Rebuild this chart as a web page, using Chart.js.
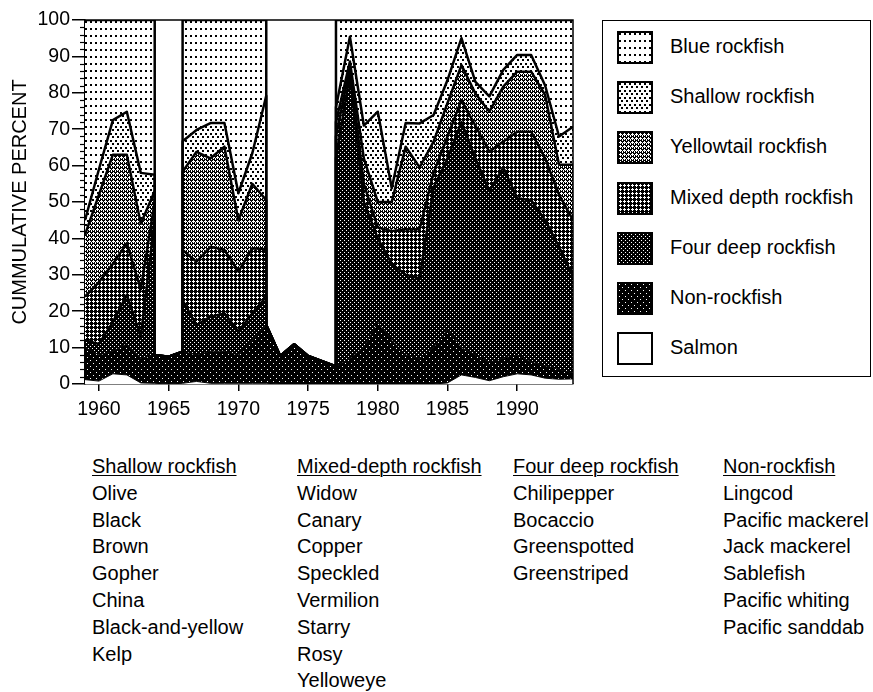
<!DOCTYPE html>
<html>
<head>
<meta charset="utf-8">
<script src="https://cdn.jsdelivr.net/npm/chart.js@4.4.0/dist/chart.umd.min.js"></script>
<style>
  body { margin: 0; background: #fff; font-family: "Liberation Sans", Arial, Helvetica, sans-serif; color: #000; }
  #wrap { position: relative; width: 873px; height: 692px; overflow: hidden; }
  #chartBox { position: absolute; left: 0; top: 0; width: 590px; height: 440px; }
  #legend { position: absolute; left: 602px; top: 20px; width: 267px; height: 355px; border: 1.5px solid #000; }
  .entry { position: absolute; left: 14px; height: 33px; }
  .entry canvas { position: absolute; left: 0; top: 0; border: 2px solid #000; }
  .entry span { position: absolute; left: 53px; top: 4px; font-size: 20px; white-space: nowrap; }
  .group { position: absolute; top: 453px; font-size: 20px; line-height: 26.8px; white-space: nowrap; }
  .group u { text-decoration-thickness: 1px; text-underline-offset: 2px; }
</style>
</head>
<body>
<div id="wrap">
  <div id="chartBox"><canvas id="chart"></canvas></div>
  <div id="legend"></div>
</div>
<script>
// cumulative percent, top edge of each band (null = only non-rockfish known)
const years = [1959,1960,1961,1962,1963,1964,1965,1966,1967,1968,1969,1970,1971,1972,
  1973,1974,1975,1976,1977,1978,1979,1980,1981,1982,1983,1984,1985,1986,1987,1988,1989,1990,1991,1992,1993,1994];
const salmonTop = [1.2,0.8,2.8,2.5,0.3,0.2, 0, 0.2,0.7,0.2,0.2,0.2,0.2,0.2, 0,0,0,0,
  0,0,0,0,0,0,0,0, 0.3,2.5,1.8,0.9,2,2.8,2.5,1.6,1.3,1.4];
const nonRockTop = [10,8,9,11,7,8, 7.5, 8.9,8,9,9,8,12,16.2, 7.7,10.9,7.7,6.3,
  4.8,7,10,17,12,8,7,10, 15,10,8,6,7,8,6,5,4,3];
const fourDeepTop = [12,11,17,24.5,13,45, null, 23,16.2,18.5,19.4,14.4,19.4,24, null,null,null,null,
  62,85,50,40,33,30,29,54, 62,72,62,53,59.5,51,50.5,45,37.7,29.5];
const mixedTop = [24,28,33,38.7,26,50, null, 36.8,33.6,37.7,36.8,30.9,37.3,37, null,null,null,null,
  68,87,55,43,42,42.5,42.5,58, 68,78,71,63.8,66.6,69.3,69.3,62,52,45];
const yellowtailTop = [41,52,63,63,44,53, null, 58.3,63.8,62,65.2,45,55,50.5, null,null,null,null,
  72,88.6,62,50,50,65.2,59.5,66.6, 77.2,87.6,79.8,74.8,81.7,85.8,85.8,79.4,60.2,60.2];
const shallowTop = [45,59,72.5,74.8,58,57.5, null, 66.7,69.8,71.7,71.7,52.4,63.4,79.2, null,null,null,null,
  76,95.4,71,74.8,53.8,71.7,71.6,73.9, 83.5,95,83,79,86.3,90.4,90.4,82,68,70.7];
const blueTop = 100;

const xTicks = [1960,1965,1970,1975,1980,1985,1990];

const groupNames = ['Shallow rockfish','Mixed-depth rockfish','Four deep rockfish','Non-rockfish'];
const groupMembers = [
  ['Olive','Black','Brown','Gopher','China','Black-and-yellow','Kelp'],
  ['Widow','Canary','Copper','Speckled','Vermilion','Starry','Rosy','Yelloweye'],
  ['Chilipepper','Bocaccio','Greenspotted','Greenstriped'],
  ['Lingcod','Pacific mackerel','Jack mackerel','Sablefish','Pacific whiting','Pacific sanddab']
];
const groupX = [92, 297, 513, 723];

// fill patterns
function makePattern(w, h, bg, fg, dots) {
  const c = document.createElement('canvas');
  c.width = w; c.height = h;
  const g = c.getContext('2d');
  g.fillStyle = bg; g.fillRect(0, 0, w, h);
  g.fillStyle = fg;
  dots.forEach(d => g.fillRect(d[0], d[1], d[2] || 1, d[3] || 1));
  return g.createPattern(c, 'repeat');
}
const plus = (x, y) => [[x, y], [x - 1, y], [x + 1, y], [x, y - 1], [x, y + 1]];
const pats = {
  salmon: '#fff',
  nonRock: makePattern(6, 6, '#000', '#fff', [[0,0],[3,3]]),
  fourDeep: makePattern(4, 4, '#000', '#fff', [[0,0],[2,2]]),
  mixed: makePattern(4, 4, '#000', '#fff', plus(1,1)),
  yellowtail: makePattern(4, 4, '#000', '#fff', plus(1,1).concat([[3,3],[3,2]])),
  shallow: makePattern(5, 7, '#fff', '#000', [[0,0,2,2],[2,3,2,2]]),
  blue: makePattern(5, 7, '#fff', '#000', [[0,0,2,2]])
};

const bands = [
  {label: 'Salmon', top: salmonTop, bg: pats.salmon, w: 1},
  {label: 'Non-rockfish', top: nonRockTop, bg: pats.nonRock, w: 1},
  {label: 'Four deep rockfish', top: fourDeepTop, bg: pats.fourDeep, w: 2.5},
  {label: 'Mixed depth rockfish', top: mixedTop, bg: pats.mixed, w: 2.5},
  {label: 'Yellowtail rockfish', top: yellowtailTop, bg: pats.yellowtail, w: 2.5},
  {label: 'Shallow rockfish', top: shallowTop, bg: pats.shallow, w: 2.5},
  {label: 'Blue rockfish', top: null, bg: pats.blue, w: 2.5}
];

const isGap = i => shallowTop[i] === null;
function value(k, i, gap) {
  if (k === 0) return salmonTop[i];
  if (k === 1 || gap) return nonRockTop[i];
  return k === 6 ? blueTop : bands[k].top[i];
}
// years next to a gap get two points at the same x (full stack and gap level)
const pts = bands.map(() => []);
years.forEach((yr, i) => {
  const gap = isGap(i);
  let modes = [gap];
  if (!gap && i > 0 && isGap(i - 1)) modes = [true, false];
  else if (!gap && i < years.length - 1 && isGap(i + 1)) modes = [false, true];
  modes.forEach(m => bands.forEach((b, k) => pts[k].push({x: yr, y: value(k, i, m)})));
});

const datasets = bands.map((b, k) => ({
  label: b.label,
  data: pts[k],
  backgroundColor: b.bg,
  borderColor: '#000',
  borderWidth: b.w,
  borderJoinStyle: 'round',
  pointRadius: 0,
  tension: 0,
  fill: k === 0 ? 'origin' : '-1'
}));

const font = {family: '"Liberation Sans", Arial, Helvetica, sans-serif', size: 19.5};

const frame = {
  id: 'frame',
  afterDraw(chart) {
    const {ctx, chartArea: a} = chart;
    const y = chart.scales.y;
    ctx.save();
    ctx.strokeStyle = '#000';
    ctx.lineWidth = 1.2;
    for (let v = 2; v < 100; v += 2) {
      if (v % 10 === 0) continue;
      const py = Math.round(y.getPixelForValue(v)) + 0.5;
      ctx.beginPath(); ctx.moveTo(a.left - 5, py); ctx.lineTo(a.left, py); ctx.stroke();
    }
    ctx.lineWidth = 1.5;
    ctx.beginPath();
    ctx.moveTo(a.left, a.top); ctx.lineTo(a.right, a.top); ctx.lineTo(a.right, a.bottom);
    ctx.stroke();
    ctx.restore();
  }
};

new Chart(document.getElementById('chart'), {
  type: 'line',
  data: {datasets},
  options: {
    responsive: true,
    maintainAspectRatio: false,
    animation: false,
    layout: {padding: {top: 20, right: 17, left: 0, bottom: 0}},
    plugins: {
      legend: {display: false},
      tooltip: {enabled: false},
      filler: {drawTime: 'beforeDatasetsDraw'}
    },
    scales: {
      x: {
        type: 'linear', min: 1959, max: 1994,
        afterBuildTicks: s => { s.ticks = xTicks.map(v => ({value: v})); },
        afterFit: s => { s.height = 56; },
        grid: {drawOnChartArea: false, tickLength: 7, color: '#000', lineWidth: 1.5},
        border: {display: true, color: '#000', width: 1.5},
        ticks: {color: '#000', font, padding: 7, maxRotation: 0, callback: v => String(v)}
      },
      y: {
        min: 0, max: 100,
        afterFit: s => { s.width = 85; },
        grid: {drawOnChartArea: false, tickLength: 13, color: '#000', lineWidth: 1.5},
        border: {display: true, color: '#000', width: 1.5},
        ticks: {stepSize: 10, color: '#000', font, padding: 2},
        title: {display: true, text: 'CUMMULATIVE PERCENT', color: '#000',
          font: {family: font.family, size: 20}, padding: {top: 8, bottom: 0}}
      }
    }
  },
  plugins: [frame]
});

// legend box
const legend = document.getElementById('legend');
bands.slice().reverse().forEach((b, j) => {
  const e = document.createElement('div');
  e.className = 'entry';
  e.style.top = (10 + j * 50.2) + 'px';
  const c = document.createElement('canvas');
  c.width = 32; c.height = 29;
  const g = c.getContext('2d');
  g.fillStyle = b.bg; g.fillRect(0, 0, 32, 29);
  const s = document.createElement('span');
  s.textContent = b.label;
  e.appendChild(c); e.appendChild(s);
  legend.appendChild(e);
});

// species groups under the chart
const wrap = document.getElementById('wrap');
groupNames.forEach((name, k) => {
  const d = document.createElement('div');
  d.className = 'group';
  d.style.left = groupX[k] + 'px';
  const u = document.createElement('u');
  u.textContent = name;
  d.appendChild(u);
  groupMembers[k].forEach(m => {
    d.appendChild(document.createElement('br'));
    d.appendChild(document.createTextNode(m));
  });
  wrap.appendChild(d);
});
</script>
</body>
</html>
